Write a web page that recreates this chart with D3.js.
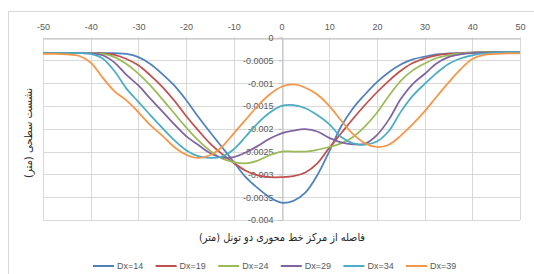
<!DOCTYPE html>
<html>
<head>
<meta charset="utf-8">
<script src="https://cdn.jsdelivr.net/npm/d3@7"></script>
<style>
  body { margin: 0; background: #ffffff; }
</style>
</head>
<body>
<settlement-chart></settlement-chart>
<script>
// distance from the centre line of the twin tunnels (m)
const distances = [-50, -47.5, -45, -42.5, -40, -37.5, -35, -32.5, -30, -27.5, -25, -22.5, -20, -17.5, -15, -12.5, -10, -7.5, -5, -2.5,
  0, 2.5, 5, 7.5, 10, 12.5, 15, 17.5, 20, 22.5, 25, 27.5, 30, 32.5, 35, 37.5, 40, 42.5, 45, 47.5, 50];

// surface settlement (m) for each tunnel spacing
const dx14 = [-0.00034, -0.00034, -0.00034, -0.00034, -0.00034, -0.00034, -0.000345, -0.00036, -0.00043, -0.00058, -0.0008, -0.00105, -0.00137, -0.00173, -0.00207, -0.0024, -0.00273, -0.00306, -0.0033, -0.0035,
  -0.00362, -0.00358, -0.0034, -0.00302, -0.0025, -0.00195, -0.00155, -0.00125, -0.00098, -0.00076, -0.00059, -0.00048, -0.00042, -0.00037, -0.00035, -0.00034, -0.00033, -0.00032, -0.00032, -0.00032, -0.00032];
const dx19 = [-0.00034, -0.00034, -0.00034, -0.00034, -0.00034, -0.00035, -0.00038, -0.00047, -0.00061, -0.00083, -0.00108, -0.00138, -0.00172, -0.00203, -0.00232, -0.00255, -0.00275, -0.00292, -0.00302, -0.00306,
  -0.00306, -0.00304, -0.00296, -0.00276, -0.00242, -0.0021, -0.00178, -0.00148, -0.0012, -0.00095, -0.00073, -0.00056, -0.00046, -0.00039, -0.00036, -0.00034, -0.00033, -0.00032, -0.00032, -0.00032, -0.00032];
const dx24 = [-0.00034, -0.00034, -0.00034, -0.00034, -0.000345, -0.00036, -0.00043, -0.00058, -0.00079, -0.00105, -0.00135, -0.00166, -0.00197, -0.00225, -0.00248, -0.00265, -0.00273, -0.00276, -0.0027, -0.00258,
  -0.0025, -0.0025, -0.0025, -0.00246, -0.0024, -0.00232, -0.00218, -0.00195, -0.00165, -0.00128, -0.00095, -0.00072, -0.00057, -0.00045, -0.00039, -0.00035, -0.00033, -0.00032, -0.00032, -0.00032, -0.00032];
const dx29 = [-0.00034, -0.00034, -0.00034, -0.00034, -0.00035, -0.00039, -0.00055, -0.00082, -0.00105, -0.00134, -0.00162, -0.0019, -0.00216, -0.00235, -0.00253, -0.00263, -0.00262, -0.00252, -0.00238, -0.00222,
  -0.0021, -0.00204, -0.00201, -0.00206, -0.0022, -0.0023, -0.00234, -0.00233, -0.00214, -0.0018, -0.00135, -0.00102, -0.0008, -0.00057, -0.00043, -0.00037, -0.00034, -0.00033, -0.00032, -0.00032, -0.00032];
const dx34 = [-0.00034, -0.00034, -0.00034, -0.00034, -0.00036, -0.00046, -0.00074, -0.00112, -0.00141, -0.0017, -0.00198, -0.00225, -0.00247, -0.0026, -0.00264, -0.00261, -0.00245, -0.00217, -0.00188, -0.00165,
  -0.0015, -0.00148, -0.00155, -0.0017, -0.0019, -0.00218, -0.00232, -0.00235, -0.00228, -0.00205, -0.00163, -0.00128, -0.00102, -0.00078, -0.00058, -0.00046, -0.00039, -0.00035, -0.00033, -0.00032, -0.00032];
const dx39 = [-0.00036, -0.00036, -0.00037, -0.0004, -0.00055, -0.00088, -0.00118, -0.00138, -0.00164, -0.00192, -0.00215, -0.0024, -0.00257, -0.00264, -0.00258, -0.0024, -0.0021, -0.0018, -0.0015, -0.00125,
  -0.00108, -0.00103, -0.0011, -0.00125, -0.0015, -0.00182, -0.00212, -0.00232, -0.0024, -0.00235, -0.00215, -0.0019, -0.00162, -0.0013, -0.00099, -0.0007, -0.00047, -0.00038, -0.00036, -0.00035, -0.00035];

const seriesNames = ["Dx=14", "Dx=19", "Dx=24", "Dx=29", "Dx=34", "Dx=39"];
const seriesValues = [dx14, dx19, dx24, dx29, dx34, dx39];

const xTicks = [-50, -40, -30, -20, -10, 0, 10, 20, 30, 40, 50];
const yTicks = [0, -0.0005, -0.001, -0.0015, -0.002, -0.0025, -0.003, -0.0035, -0.004];
const yTickLabels = ["0", "-0.0005", "-0.001", "-0.0015", "-0.002", "-0.0025", "-0.003", "-0.0035", "-0.004"];

const xTitle = "فاصله از مرکز خط محوری دو تونل (متر)";
const yTitle = "نشست سطحی (متر)";

class SettlementChart extends HTMLElement {
  connectedCallback() {
    this.innerHTML = `<div id="chart"></div>`;
    this.draw(d3.select(this).select("#chart"));
  }

  draw = (target) => {
    const svgConfig = {
      width: 534,
      height: 274,
      plot: { left: 43, right: 520, top: 37.5, bottom: 220 },
      legend: { x: 93, step: 62.6, y: 266, lineLength: 21 },
    };

    const colors = ["#4f81bd", "#c0504d", "#9bbb59", "#8064a2", "#4bacc6", "#f79646"];
    const gridColor = "#d9d9d9";
    const textColor = "#595959";
    const labelFont = "'Liberation Sans', Arial, sans-serif";

    const svg = target.append("svg")
      .attr("width", svgConfig.width)
      .attr("height", svgConfig.height);

    // chart border
    svg.append("rect")
      .attr("x", 8.5)
      .attr("y", 11.5)
      .attr("width", 560)
      .attr("height", 300)
      .attr("fill", "none")
      .attr("stroke", gridColor);

    const x = d3.scaleLinear()
      .domain([-50, 50])
      .range([svgConfig.plot.left, svgConfig.plot.right]);
    const y = d3.scaleLinear()
      .domain([-0.004, 0])
      .range([svgConfig.plot.bottom, svgConfig.plot.top]);

    // gridlines
    svg.append("g")
      .selectAll("line")
      .data(xTicks)
      .enter()
      .append("line")
      .attr("x1", (d) => Math.round(x(d)) + 0.5)
      .attr("x2", (d) => Math.round(x(d)) + 0.5)
      .attr("y1", y(0))
      .attr("y2", y(-0.004))
      .attr("stroke", gridColor);

    svg.append("g")
      .selectAll("line")
      .data(yTicks)
      .enter()
      .append("line")
      .attr("x1", x(-50))
      .attr("x2", x(50))
      .attr("y1", (d) => Math.round(y(d)) + 0.5)
      .attr("y2", (d) => Math.round(y(d)) + 0.5)
      .attr("stroke", gridColor);

    // x axis sits on y = 0, labels above
    const xAxis = d3.axisTop(x)
      .tickValues(xTicks)
      .tickFormat((d) => d)
      .tickSizeInner(0)
      .tickSizeOuter(0)
      .tickPadding(9);
    const gx = svg.append("g")
      .attr("transform", `translate(0, ${Math.round(y(0)) + 0.5})`)
      .call(xAxis);
    gx.select(".domain").attr("stroke", "#bfbfbf");
    gx.selectAll("text")
      .attr("fill", textColor)
      .style("font-family", labelFont)
      .style("font-size", "9px");

    // y axis sits on x = 0
    const yAxis = d3.axisLeft(y)
      .tickValues(yTicks)
      .tickFormat((d, i) => yTickLabels[i])
      .tickSizeInner(4)
      .tickSizeOuter(0)
      .tickPadding(5);
    const gy = svg.append("g")
      .attr("transform", `translate(${Math.round(x(0)) + 0.5}, 0)`)
      .call(yAxis);
    gy.select(".domain").attr("stroke", "#bfbfbf");
    gy.selectAll("line").attr("stroke", "#bfbfbf");
    gy.selectAll("text")
      .attr("fill", textColor)
      .style("font-family", labelFont)
      .style("font-size", "9px");

    // series lines
    const line = d3.line()
      .x((d, i) => x(distances[i]))
      .y((d) => y(d))
      .curve(d3.curveCatmullRom.alpha(0.5));

    svg.append("g")
      .selectAll("path")
      .data(seriesValues)
      .enter()
      .append("path")
      .attr("d", (d) => line(d))
      .attr("fill", "none")
      .attr("stroke", (d, i) => colors[i])
      .attr("stroke-width", 1.75)
      .attr("stroke-linejoin", "round");

    // axis titles
    svg.append("text")
      .attr("x", 282)
      .attr("y", 241)
      .attr("text-anchor", "middle")
      .attr("fill", "#262626")
      .attr("textLength", 166)
      .attr("lengthAdjust", "spacingAndGlyphs")
      .style("font-family", "'DejaVu Sans', sans-serif")
      .style("font-size", "11px")
      .text(xTitle);

    svg.append("text")
      .attr("transform", "translate(32, 133) rotate(-90)")
      .attr("text-anchor", "middle")
      .attr("fill", "#262626")
      .attr("textLength", 90)
      .attr("lengthAdjust", "spacingAndGlyphs")
      .style("font-family", "'DejaVu Sans', sans-serif")
      .style("font-size", "11px")
      .text(yTitle);

    // legend
    const legend = svg.append("g")
      .selectAll("g")
      .data(seriesNames)
      .enter()
      .append("g")
      .attr("transform", (d, i) => `translate(${svgConfig.legend.x + i * svgConfig.legend.step}, ${svgConfig.legend.y})`);

    legend.append("line")
      .attr("x1", 0)
      .attr("x2", svgConfig.legend.lineLength)
      .attr("stroke", (d, i) => colors[i])
      .attr("stroke-width", 2);

    legend.append("text")
      .attr("x", svgConfig.legend.lineLength + 3)
      .attr("dy", "0.35em")
      .attr("fill", textColor)
      .style("font-family", labelFont)
      .style("font-size", "9px")
      .text((d) => d);
  };
}

customElements.define("settlement-chart", SettlementChart);
</script>
</body>
</html>
